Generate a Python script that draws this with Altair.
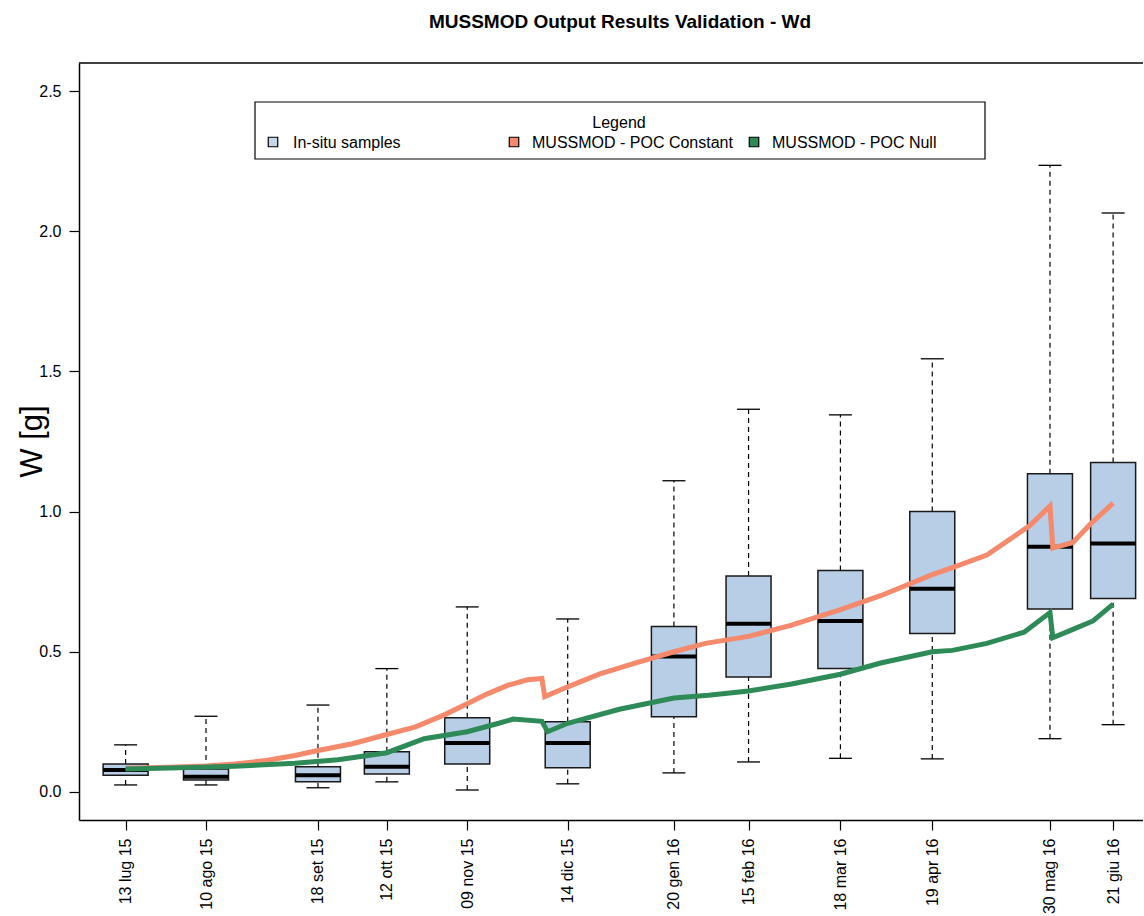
import altair as alt
import pandas as pd

# ---- in-situ samples (box statistics) ----
sample_dates = ["2015-07-13", "2015-08-10", "2015-09-18", "2015-10-12", "2015-11-09", "2015-12-14",
                "2016-01-20", "2016-02-15", "2016-03-18", "2016-04-19", "2016-05-30", "2016-06-21"]
tick_labels = ["13 lug 15", "10 ago 15", "18 set 15", "12 ott 15", "09 nov 15", "14 dic 15",
               "20 gen 16", "15 feb 16", "18 mar 16", "19 apr 16", "30 mag 16", "21 giu 16"]
w_low = [0.025, 0.025, 0.015, 0.036, 0.007, 0.029, 0.068, 0.107, 0.12, 0.118, 0.19, 0.24]
w_q1 = [0.06, 0.043, 0.036, 0.064, 0.10, 0.086, 0.268, 0.41, 0.44, 0.565, 0.653, 0.69]
w_med = [0.078, 0.054, 0.06, 0.09, 0.175, 0.175, 0.483, 0.60, 0.61, 0.725, 0.875, 0.886]
w_q3 = [0.10, 0.082, 0.09, 0.143, 0.265, 0.25, 0.59, 0.77, 0.79, 1.00, 1.135, 1.175]
w_high = [0.168, 0.27, 0.31, 0.44, 0.66, 0.617, 1.11, 1.365, 1.345, 1.545, 2.235, 2.065]

# ---- model runs ----
poc_const_dates = ["2015-07-13", "2015-07-25", "2015-08-10", "2015-08-20", "2015-08-31", "2015-09-10",
                   "2015-09-18", "2015-09-30", "2015-10-12", "2015-10-22", "2015-11-01", "2015-11-09",
                   "2015-11-16", "2015-11-23", "2015-11-30", "2015-12-05", "2015-12-06", "2015-12-14",
                   "2015-12-25", "2016-01-05", "2016-01-20", "2016-01-31", "2016-02-15", "2016-03-01",
                   "2016-03-18", "2016-04-01", "2016-04-19", "2016-04-26", "2016-05-08", "2016-05-23",
                   "2016-05-30", "2016-05-31", "2016-06-07", "2016-06-13", "2016-06-21"]
poc_const_w = [0.085, 0.087, 0.093, 0.100, 0.112, 0.130,
               0.148, 0.172, 0.205, 0.232, 0.275, 0.315,
               0.350, 0.380, 0.400, 0.405, 0.340, 0.375,
               0.420, 0.455, 0.500, 0.530, 0.555, 0.595,
               0.650, 0.700, 0.775, 0.800, 0.845, 0.950,
               1.020, 0.870, 0.890, 0.955, 1.030]

poc_null_dates = ["2015-07-13", "2015-08-01", "2015-08-20", "2015-09-10", "2015-09-25", "2015-10-12",
                  "2015-10-25", "2015-11-09", "2015-11-20", "2015-11-25", "2015-12-05", "2015-12-07",
                  "2015-12-14", "2016-01-01", "2016-01-20", "2016-02-01", "2016-02-15", "2016-03-01",
                  "2016-03-18", "2016-04-01", "2016-04-19", "2016-04-26", "2016-05-08", "2016-05-21",
                  "2016-05-30", "2016-05-31", "2016-06-07", "2016-06-14", "2016-06-21"]
poc_null_w = [0.082, 0.086, 0.092, 0.102, 0.115, 0.140,
              0.190, 0.215, 0.245, 0.260, 0.252, 0.215,
              0.245, 0.295, 0.335, 0.345, 0.360, 0.385,
              0.420, 0.460, 0.500, 0.505, 0.530, 0.570,
              0.640, 0.550, 0.580, 0.610, 0.670]

legend_labels = ["In-situ samples", "MUSSMOD - POC Constant", "MUSSMOD - POC Null"]

BOX_FILL = "#B8CDE6"
ORANGE = "#F4896B"
GREEN = "#2E8B57"
FONT = "Liberation Sans"

W, H = 1064, 757

boxes = pd.DataFrame({"date": sample_dates, "low": w_low, "q1": w_q1, "med": w_med,
                      "q3": w_q3, "high": w_high})
const_df = pd.DataFrame({"date": poc_const_dates, "w": poc_const_w})
null_df = pd.DataFrame({"date": poc_null_dates, "w": poc_null_w})
one = pd.DataFrame({"k": [0]})


def dt(s, hours=0):
    y, m, d = map(int, s.split("-"))
    return alt.DateTime(year=y, month=m, date=d, hours=hours, utc=True)


label_expr = ""
for d, lab in zip(sample_dates, tick_labels):
    label_expr += f"utcFormat(datum.value, '%Y-%m-%d') == '{d}' ? '{lab}' : "
label_expr += "''"

x_scale = alt.Scale(type="utc", domain=[dt("2015-06-28", 12), dt("2016-06-29", 16)])
y_scale = alt.Scale(domain=[-0.1, 2.6], nice=False, zero=False)

x_axis = alt.Axis(values=[dt(d) for d in sample_dates], labelExpr=label_expr, labelAngle=270,
                  labelFontSize=16, labelFont=FONT, labelColor="black", tickSize=10, labelPadding=8,
                  tickColor="black", domainColor="black", domainWidth=1.5, tickWidth=1.2,
                  grid=False, title=None)
y_axis = alt.Axis(values=[0, 0.5, 1.0, 1.5, 2.0, 2.5], format=".1f", labelFontSize=16, labelFont=FONT,
                  labelColor="black", tickSize=10, labelPadding=8, tickColor="black", tickWidth=1.2,
                  domainColor="black", domainWidth=1.5, grid=False,
                  title="W [g]", titleFontSize=31, titleFont=FONT, titleFontWeight="normal",
                  titleColor="black", titleX=-38, titleY=378, titleAngle=270,
                  titleBaseline="alphabetic", titleAlign="center")

X = alt.X("date:T", scale=x_scale, axis=x_axis)
base = alt.Chart(boxes)

whisk_hi = base.mark_rule(color="black", strokeWidth=1.2, strokeDash=[5, 4]).encode(
    x=X, y=alt.Y("q3:Q", scale=y_scale, axis=y_axis), y2="high:Q")
whisk_lo = base.mark_rule(color="black", strokeWidth=1.2, strokeDash=[5, 4]).encode(
    x=alt.X("date:T"), y=alt.Y("low:Q"), y2="q1:Q")
cap_hi = base.mark_tick(orient="horizontal", size=23, thickness=1.3, color="black", opacity=1).encode(
    x=alt.X("date:T"), y=alt.Y("high:Q"))
cap_lo = base.mark_tick(orient="horizontal", size=23, thickness=1.3, color="black", opacity=1).encode(
    x=alt.X("date:T"), y=alt.Y("low:Q"))
box = base.mark_bar(size=45, fill=BOX_FILL, stroke="#1a1a1a", strokeWidth=1.5, opacity=1).encode(
    x=alt.X("date:T"), y=alt.Y("q1:Q"), y2="q3:Q")
median = base.mark_tick(orient="horizontal", size=45, thickness=4, color="black", opacity=1).encode(
    x=alt.X("date:T"), y=alt.Y("med:Q"))

line_const = alt.Chart(const_df).mark_line(color=ORANGE, strokeWidth=5).encode(
    x=alt.X("date:T"), y=alt.Y("w:Q"))
line_null = alt.Chart(null_df).mark_line(color=GREEN, strokeWidth=5).encode(
    x=alt.X("date:T"), y=alt.Y("w:Q"))

# top frame line
top_rule = alt.Chart(one).mark_rule(color="black", strokeWidth=1.5).encode(
    x=alt.value(0), x2=alt.value(W), y=alt.value(0))

# ---- manual legend ----
leg_box = alt.Chart(one).mark_rect(fill="white", stroke="black", strokeWidth=1.2).encode(
    x=alt.value(176), x2=alt.value(906), y=alt.value(39), y2=alt.value(96))
leg_title = alt.Chart(one).mark_text(fontSize=16, font=FONT, color="black", align="center",
                                     baseline="alphabetic").encode(
    x=alt.value(540), y=alt.value(65), text=alt.value("Legend"))

leg_items = []
sq_x = [194, 435, 675]
tx_x = [214, 453, 693]
sq_col = ["#C6D6EA", ORANGE, GREEN]
for sx, tx, col, lab in zip(sq_x, tx_x, sq_col, legend_labels):
    leg_items.append(alt.Chart(one).mark_square(size=90, fill=col, fillOpacity=1, stroke="black",
                                                strokeWidth=1.2, opacity=1).encode(
        x=alt.value(sx), y=alt.value(79)))
    leg_items.append(alt.Chart(one).mark_text(fontSize=16, font=FONT, color="black", align="left",
                                              baseline="alphabetic").encode(
        x=alt.value(tx), y=alt.value(85), text=alt.value(lab)))

chart = alt.layer(
    whisk_hi, whisk_lo, cap_hi, cap_lo, box, median, line_const, line_null, top_rule,
    leg_box, leg_title, *leg_items
).properties(
    width=W, height=H,
    padding={"left": 79, "top": 63, "right": 0, "bottom": 96},
    autosize=alt.AutoSizeParams(type="none"),
    title=alt.TitleParams("MUSSMOD Output Results Validation - Wd", fontSize=19, fontWeight="bold",
                          font=FONT, color="black", anchor="middle", dx=9, offset=30),
    background="white",
).configure_view(stroke=None)

chart.save("out.html", embed_options={"renderer": "svg", "actions": False})
